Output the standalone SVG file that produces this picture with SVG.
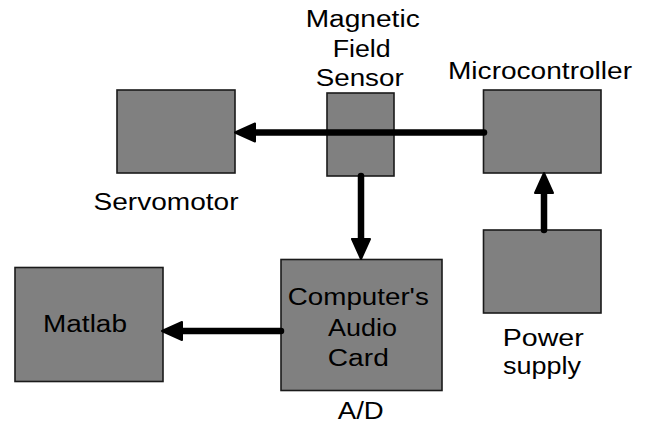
<svg xmlns="http://www.w3.org/2000/svg" width="645" height="423" viewBox="0 0 645 423">
<style>
  .box { fill: #808080; stroke: #1a1a1a; stroke-width: 1.6; }
  .lbl { font-family: "Liberation Sans", Arial, sans-serif; font-size: 23.5px; fill: #000; text-anchor: middle; }
  .wire { fill: none; stroke: #000; stroke-width: 6.5; stroke-linecap: round; marker-end: url(#ah); }
</style>
<defs>
  <marker id="ah" markerUnits="userSpaceOnUse" markerWidth="24" markerHeight="22" viewBox="0 0 24 22" refX="2" refY="11" orient="auto">
    <path d="M2,2 L22,11 L2,20 z" fill="#000" stroke="#000" stroke-width="2" stroke-linejoin="round"/>
  </marker>
</defs>
<rect width="645" height="423" fill="#fff"/>
<g id="servomotor">
  <rect class="box" x="117" y="90" width="118" height="83"/>
  <text class="lbl" x="166" y="210" textLength="145" lengthAdjust="spacingAndGlyphs">Servomotor</text>
</g>
<g id="sensor">
  <rect class="box" x="327" y="93" width="67" height="83"/>
  <text class="lbl" x="362.7" y="26.7" textLength="114" lengthAdjust="spacingAndGlyphs">Magnetic</text>
  <text class="lbl" x="361.7" y="56.7" textLength="58" lengthAdjust="spacingAndGlyphs">Field</text>
  <text class="lbl" x="359.7" y="86" textLength="88" lengthAdjust="spacingAndGlyphs">Sensor</text>
</g>
<g id="microcontroller">
  <rect class="box" x="483.5" y="90" width="117.5" height="83"/>
  <text class="lbl" x="540" y="79.3" textLength="184" lengthAdjust="spacingAndGlyphs">Microcontroller</text>
</g>
<g id="matlab">
  <rect class="box" x="15" y="267.5" width="148" height="114"/>
  <text class="lbl" x="85" y="331.7" textLength="84" lengthAdjust="spacingAndGlyphs">Matlab</text>
</g>
<g id="audio-card">
  <rect class="box" x="281" y="259.5" width="161" height="131"/>
  <text class="lbl" x="358.3" y="305" textLength="141" lengthAdjust="spacingAndGlyphs">Computer's</text>
  <text class="lbl" x="362.5" y="335.7" textLength="69" lengthAdjust="spacingAndGlyphs">Audio</text>
  <text class="lbl" x="358.3" y="366" textLength="61" lengthAdjust="spacingAndGlyphs">Card</text>
  <text class="lbl" x="360.8" y="419.3" textLength="46" lengthAdjust="spacingAndGlyphs">A/D</text>
</g>
<g id="power-supply">
  <rect class="box" x="483.5" y="230" width="117.5" height="83"/>
  <text class="lbl" x="543.3" y="346" textLength="81" lengthAdjust="spacingAndGlyphs">Power</text>
  <text class="lbl" x="542" y="374" textLength="78" lengthAdjust="spacingAndGlyphs">supply</text>
</g>
<g id="connectors">
  <path class="wire" d="M484,132.5 L255,132.5"/>
  <path class="wire" d="M361,176 L361,239"/>
  <path class="wire" d="M281,331 L182,331"/>
  <path class="wire" d="M544,230 L544,193"/>
</g>
</svg>
